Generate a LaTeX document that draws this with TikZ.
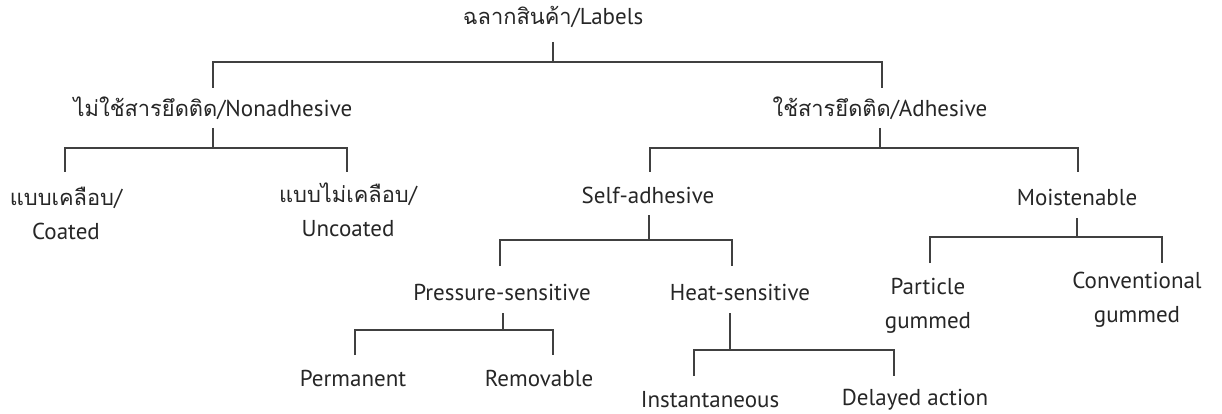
\documentclass[tikz,border=0pt]{standalone}
\usepackage{fontspec}
\setmainfont{PT Sans}
\newfontfamily\thai[Script=Thai,Scale=0.95]{Loma}
\begin{document}
\begin{tikzpicture}[x=1pt,y=-1pt,
  lbl/.style={font=\fontsize{23}{34}\selectfont, inner sep=0pt, align=center, text=black!85},
  ln/.style={draw=black!75, line width=1.1pt}]
\useasboundingbox (0,0) rectangle (1222,414);
% labels
\node[lbl] (root) at (553,17) {{\thai ฉลากสินค้า}/Labels};
\node[lbl] (non) at (213,108) {{\thai ไม่ใช้สารยึดติด}/Nonadhesive};
\node[lbl] (adh) at (880,108) {{\thai ใช้สารยึดติด}/Adhesive};
\node[lbl] (coat) at (66,213) {{\thai แบบเคลือบ}/\\Coated};
\node[lbl] (unc) at (348,210) {{\thai แบบไม่เคลือบ}/\\Uncoated};
\node[lbl] (self) at (648,195) {Self-adhesive};
\node[lbl] (moist) at (1077,197) {Moistenable};
\node[lbl] (press) at (502,292) {Pressure-sensitive};
\node[lbl] (heat) at (740,292) {Heat-sensitive};
\node[lbl] (part) at (928,306) {Particle\\gummed};
\node[lbl] (conv) at (1137,300) {Conventional\\gummed};
\node[lbl] (perm) at (353,378) {Permanent};
\node[lbl] (remo) at (539,378) {Removable};
\node[lbl] (inst) at (710,400) {Instantaneous};
\node[lbl] (dela) at (915,400) {Delayed action};
% junction coordinates
\coordinate (rootS) at (553,42);  \coordinate (rootB) at (553,62);
\coordinate (rootL) at (213,62);  \coordinate (rootR) at (882,62);
\coordinate (nonT) at (213,88);   \coordinate (adhT) at (882,88);
\coordinate (nonS) at (213,128);  \coordinate (nonB) at (213,148);
\coordinate (nonL) at (65,148);   \coordinate (nonR) at (347,148);
\coordinate (coatT) at (65,172);  \coordinate (uncT) at (347,172);
\coordinate (adhS) at (880,128);  \coordinate (adhB) at (880,148);
\coordinate (adhL) at (650,148);  \coordinate (adhR) at (1078,148);
\coordinate (selfT) at (650,172); \coordinate (moistT) at (1078,172);
\coordinate (selfS) at (649,215); \coordinate (selfB) at (649,240);
\coordinate (selfL) at (500,240); \coordinate (selfR) at (732,240);
\coordinate (pressT) at (500,266);\coordinate (heatT) at (732,266);
\coordinate (moistS) at (1077,218);\coordinate (moistB) at (1077,237);
\coordinate (moistL) at (930,237); \coordinate (moistR) at (1162,237);
\coordinate (partT) at (930,263);  \coordinate (convT) at (1162,263);
\coordinate (pressS) at (503,313); \coordinate (pressB) at (503,330);
\coordinate (pressL) at (355,330); \coordinate (pressR) at (553,330);
\coordinate (permT) at (355,355);  \coordinate (remoT) at (553,355);
\coordinate (heatS) at (730,313);  \coordinate (heatB) at (730,350);
\coordinate (heatL) at (694,350);  \coordinate (heatR) at (894,350);
\coordinate (instT) at (694,376);  \coordinate (delaT) at (894,376);
% connectors
\draw[ln] (rootS) -- (rootB);
\draw[ln] (nonT) -- (rootL) -- (rootR) -- (adhT);
\draw[ln] (nonS) -- (nonB);
\draw[ln] (coatT) -- (nonL) -- (nonR) -- (uncT);
\draw[ln] (adhS) -- (adhB);
\draw[ln] (selfT) -- (adhL) -- (adhR) -- (moistT);
\draw[ln] (selfS) -- (selfB);
\draw[ln] (pressT) -- (selfL) -- (selfR) -- (heatT);
\draw[ln] (moistS) -- (moistB);
\draw[ln] (partT) -- (moistL) -- (moistR) -- (convT);
\draw[ln] (pressS) -- (pressB);
\draw[ln] (permT) -- (pressL) -- (pressR) -- (remoT);
\draw[ln] (heatS) -- (heatB);
\draw[ln] (instT) -- (heatL) -- (heatR) -- (delaT);
\end{tikzpicture}
\end{document}
